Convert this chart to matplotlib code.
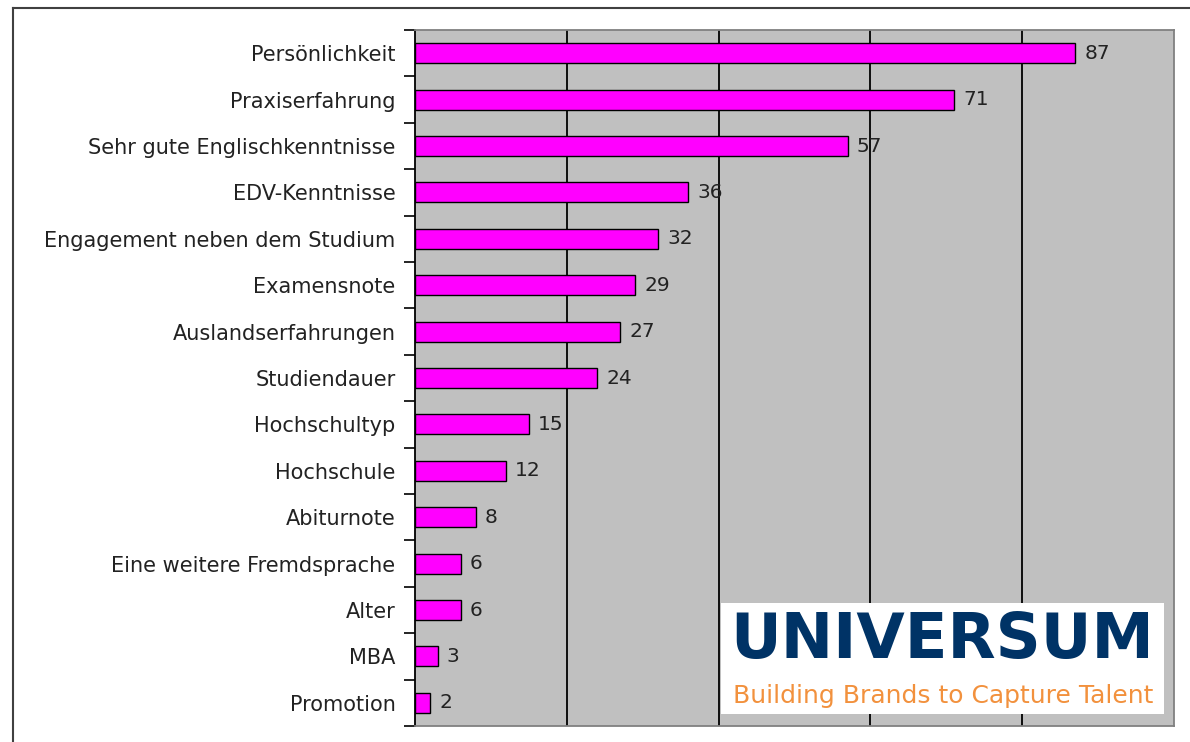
import matplotlib
matplotlib.use("Agg")
import matplotlib.pyplot as plt
from matplotlib.lines import Line2D
from matplotlib.patches import Rectangle

# Daten
kategorien = ["Persönlichkeit", "Praxiserfahrung", "Sehr gute Englischkenntnisse",
              "EDV-Kenntnisse", "Engagement neben dem Studium", "Examensnote",
              "Auslandserfahrungen", "Studiendauer", "Hochschultyp", "Hochschule",
              "Abiturnote", "Eine weitere Fremdsprache", "Alter", "MBA", "Promotion"]
werte = [87, 71, 57, 36, 32, 29, 27, 24, 15, 12, 8, 6, 6, 3, 2]
raster = [20, 40, 60, 80]

plt.rcParams['font.family'] = ['DejaVu Sans']

fig = plt.figure(figsize=(11.9, 7.42), dpi=100)
ax = fig.add_axes([415 / 1190, 1 - 726 / 742, 759 / 1190, 696 / 742])
ax.set_facecolor('#c0c0c0')

y = list(range(len(kategorien)))
ax.barh(y, werte, height=0.43, color='#ff00ff', edgecolor='black', linewidth=1, zorder=3)
for yi, w in zip(y, werte):
    ax.text(w + 1.2, yi, str(w), va='center', ha='left', fontsize=14.5, color='#222222', zorder=4)

ax.set_xlim(0, 100)
ax.set_ylim(len(kategorien) - 0.5, -0.5)
for g in raster:
    ax.axvline(g, color='black', linewidth=1.3, zorder=1)

ax.set_yticks(y)
ax.set_yticklabels(kategorien, fontsize=15, color='#222222')
ax.set_yticks([i - 0.5 for i in range(len(kategorien) + 1)], minor=True)
ax.tick_params(axis='y', which='major', length=0, pad=14)
ax.tick_params(axis='y', which='minor', length=8, width=1.2, color='black')
ax.set_xticks([])

for s in ['top', 'right', 'bottom']:
    ax.spines[s].set_color('#808080')
    ax.spines[s].set_linewidth(1.3)
ax.spines['left'].set_color('black')
ax.spines['left'].set_linewidth(1.3)

# Rahmen der Abbildung
fig.add_artist(Line2D([13 / 1190, 13 / 1190], [0, 1 - 8 / 742], color='#404040', linewidth=1.5))
fig.add_artist(Line2D([13 / 1190, 1], [1 - 8 / 742, 1 - 8 / 742], color='#404040', linewidth=1.5))

# Logo
fig.add_artist(Rectangle((721 / 1190, 1 - 714 / 742), 443 / 1190, 111 / 742,
                         facecolor='white', edgecolor='none', zorder=5))
fig.text(942 / 1190, 1 - 641 / 742, "UNIVERSUM", ha='center', va='center',
         fontsize=45, fontweight='bold', color='#003366', family='DejaVu Sans', zorder=6)
fig.text(943 / 1190, 1 - 696 / 742, "Building Brands to Capture Talent", ha='center', va='center',
         fontsize=18, color='#f2913d', family='DejaVu Sans', zorder=6)

fig.savefig("out.png", dpi=100)
